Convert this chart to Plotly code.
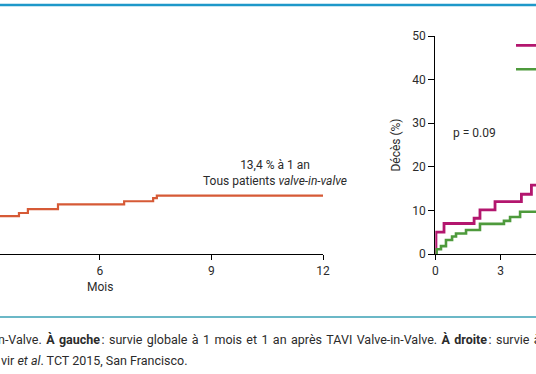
import plotly.graph_objects as go

W, H = 536, 374

# ---- data ----
left_months = [3.0, 3.82, 4.06, 4.87, 6.65, 7.43, 7.53, 12.0]
left_deces = [8.7, 9.4, 10.3, 11.4, 12.1, 12.8, 13.4, 13.4]

viv_months = [0, 0.03, 0.40, 1.78, 2.05, 2.74, 3.95, 4.41, 4.8]
viv_deces = [0, 5.0, 7.0, 8.2, 10.1, 12.0, 13.7, 15.8, 15.8]

nat_months = [0, 0.06, 0.26, 0.49, 0.77, 0.95, 1.41, 2.05, 3.15, 3.43, 3.89, 4.8]
nat_deces = [0, 1.1, 1.8, 3.2, 4.0, 4.7, 5.5, 6.9, 7.6, 8.5, 9.7, 9.7]

left_ticks = [3, 6, 9, 12]
right_xticks = [0, 3, 6, 9, 12]
right_yticks = [0, 10, 20, 30, 40, 50]

caption_1 = "n-Valve. <b>À gauche</b>\u202f: survie globale à 1 mois et 1 an après TAVI Valve-in-Valve. <b>À droite</b>\u202f: survie à 1 an"
caption_2 = "vir <i>et al</i>. TCT 2015, San Francisco."

FONT = "Roboto"
TXT = "#2b2b2b"

def px_x(p):
    return p / W

def px_y(p):
    return 1 - p / H

y_dom = [px_y(254), px_y(36)]

fig = go.Figure()
fig.add_trace(go.Scatter(x=left_months, y=left_deces, mode="lines", line=dict(shape="hv", color="#d65a36", width=2.2),
                         showlegend=False, xaxis="x", yaxis="y", name="Tous patients valve-in-valve"))
fig.add_trace(go.Scatter(x=viv_months, y=viv_deces, mode="lines", line=dict(shape="hv", color="#b3166e", width=2.8),
                         xaxis="x2", yaxis="y2", name="Valve-in-valve"))
fig.add_trace(go.Scatter(x=nat_months, y=nat_deces, mode="lines", line=dict(shape="hv", color="#4e9a3c", width=2.6),
                         xaxis="x2", yaxis="y2", name="TAVI sur valve native"))

axis_common = dict(showgrid=False, zeroline=False, linecolor="black", linewidth=1.3,
                   ticks="outside", tickcolor="black", tickwidth=1,
                   tickfont=dict(family=FONT, size=12, color=TXT))

fig.update_layout(
    width=W, height=H,
    margin=dict(l=0, r=0, t=0, b=0, autoexpand=False),
    paper_bgcolor="white", plot_bgcolor="rgba(0,0,0,0)",
    font=dict(family=FONT, size=12, color=TXT),
    xaxis=dict(domain=[0, px_x(323)], range=[3.31, 12], tickvals=left_ticks, ticklen=5, showline=True, **axis_common),
    yaxis=dict(domain=y_dom, range=[0, 50], visible=False),
    xaxis2=dict(domain=[px_x(435.3), 1], range=[0, 4.62], tickvals=right_xticks, ticklen=5, showline=True,
                anchor="y2", **axis_common),
    yaxis2=dict(domain=y_dom, range=[0, 50], tickvals=right_yticks, ticklen=6, showline=True, anchor="x2",
                title=dict(text="Décès (%)", standoff=9, font=dict(family=FONT, size=12, color=TXT)),
                **axis_common),
    showlegend=True,
    legend=dict(x=px_x(511), y=px_y(28.5), xanchor="left", yanchor="top", bgcolor="rgba(0,0,0,0)",
                font=dict(family=FONT, size=16, color=TXT), tracegroupgap=0),
)

fig.add_annotation(x=6, xref="x", y=px_y(287), yref="paper", yanchor="middle", text="Mois", showarrow=False,
                   font=dict(family=FONT, size=12, color=TXT))
fig.add_annotation(x=10.71, xref="x", y=18.6, yref="y", text="13,4 % à 1 an<br>Tous patients <i>valve-in-valve</i>",
                   showarrow=False, font=dict(family=FONT, size=12, color=TXT))
fig.add_annotation(x=1.78, xref="x2", y=27.7, yref="y2", text="p = 0.09", showarrow=False,
                   font=dict(family=FONT, size=12, color=TXT))

# decorative rules
fig.add_shape(type="line", xref="paper", yref="paper", x0=0, x1=1, y0=px_y(5), y1=px_y(5),
              line=dict(color="#1e98c9", width=2.5))
fig.add_shape(type="line", xref="paper", yref="paper", x0=0, x1=1, y0=px_y(317), y1=px_y(317),
              line=dict(color="#3aa0b4", width=1.5))

# caption (cut at both sides in the picture); first line is justified -> wider word spacing
fig.add_annotation(x=px_x(-4), xref="paper", y=px_y(339), yref="paper", xanchor="left", yanchor="middle",
                   text=caption_1.replace(" ", " \u200a"),
                   showarrow=False, font=dict(family=FONT, size=12.5, color=TXT))
fig.add_annotation(x=px_x(-1), xref="paper", y=px_y(360), yref="paper", xanchor="left", yanchor="middle",
                   text=caption_2,
                   showarrow=False, font=dict(family=FONT, size=12.5, color=TXT))

fig.write_html("out.html", config={"displayModeBar": False},
               post_script="document.body.style.margin='0';document.body.style.overflow='hidden';")
